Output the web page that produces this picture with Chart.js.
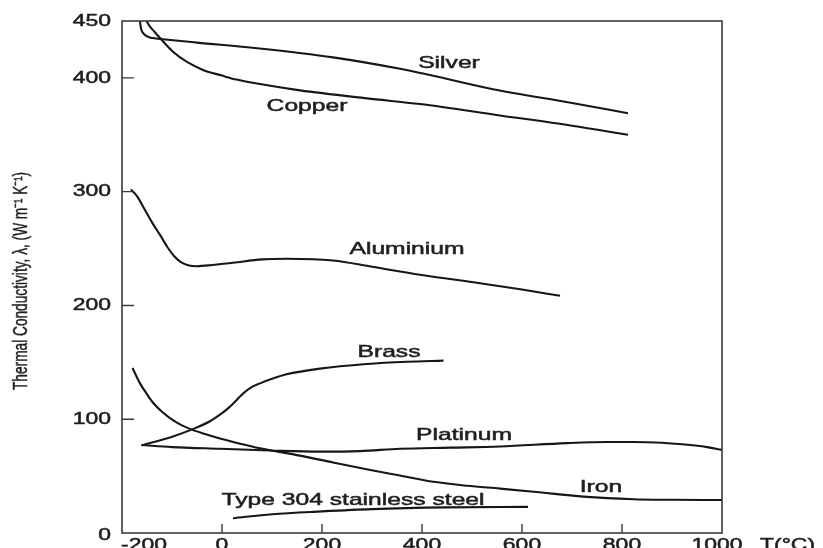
<!DOCTYPE html>
<html>
<head>
<meta charset="utf-8">
<script src="https://cdn.jsdelivr.net/npm/chart.js@4/dist/chart.umd.min.js"></script>
<style>
  html, body { margin: 0; padding: 0; background: #fff; }
  canvas { display: block; }
</style>
</head>
<body>
<canvas id="lineChart" width="823" height="548"></canvas>
<script>
// temperature (°C) and conductivity (W m-1 K-1)
const silverT = [-164, -163, -161, -158, -153, -146, -138, -118, -50, 70, 222, 356, 400, 542, 700, 812];
const silverK = [450, 446, 442, 439.5, 437.3, 435.8, 435, 434, 431, 426, 418, 408, 404, 390, 378, 369];

const copperT = [-151, -144, -138, -124, -98, -70, -38, 0, 29, 70, 156, 290, 396, 556, 700, 812];
const copperK = [450, 445, 442, 435, 423, 414, 407, 402, 398.5, 395, 389, 382, 377, 367, 358, 350];

const aluminiumT = [-182, -170, -158, -140, -124, -108, -95, -82, -68, -50, -20, 22, 80, 130, 222, 300, 396, 516, 600, 676];
const aluminiumK = [302, 296, 287, 273, 262, 250.5, 243, 238, 235.3, 234.5, 235.5, 237.5, 240.5, 241, 239.5, 234, 227, 219.5, 214, 208.5];

const brassT = [-161, -104, -57, -25, -4, 12, 23, 35, 46, 60, 76, 100, 129, 196, 289, 370, 443];
const brassK = [77, 84, 91.5, 98, 104, 109.5, 114, 119.5, 124, 128.5, 131.5, 135.5, 139.5, 144.5, 148.5, 150.5, 151.5];

const platinumT = [-161, -100, -4, 96, 196, 276, 356, 456, 556, 689, 770, 823, 880, 936, 970, 1000];
const platinumK = [77.3, 75.5, 74, 72.5, 71.5, 72, 74, 75, 76, 79, 80, 80, 79.3, 77.3, 75.5, 73];

const ironT = [-179, -164, -150, -137, -120, -104, -84, -64, -34, -4, 36, 76, 156, 222, 289, 356, 423, 490, 556, 623, 723, 823, 900, 1000];
const ironK = [145, 131.5, 122, 114, 106.5, 101, 95.5, 91.5, 87, 83, 78.5, 74.5, 68, 62, 56, 50.5, 45, 41.5, 39, 36.3, 32, 29.7, 29.2, 29];

const steelT = [22, 100, 200, 300, 450, 612];
const steelK = [13, 16.5, 19, 21, 22.5, 23];

// curve labels and where they sit (data coordinates)
const curveNames = ['Silver', 'Copper', 'Aluminium', 'Brass', 'Platinum', 'Iron', 'Type 304 stainless steel'];
const curveLabelT = [454, 170, 370, 334, 484, 758, 262];
const curveLabelK = [413, 375, 249, 159, 86, 40, 29];

// axis ticks
const xTickValues = [-200, 0, 200, 400, 600, 800, 1000];
const xTickMarks = [0, 200, 400, 600, 800];
const yTickValues = [0, 100, 200, 300, 400, 450];
const yTickMarks = [100, 200, 300, 400];
const xUnitLabel = 'T(°C)';
const yTitle = 'Thermal Conductivity, λ, (W m⁻¹ K⁻¹)';

const toPoints = (ts, ks) => ts.map((t, i) => ({ x: t, y: ks[i] }));

const makeSet = (label, ts, ks) => ({
    label: label,
    data: toPoints(ts, ks),
    borderColor: '#161616',
    borderWidth: 2.1,
    pointRadius: 0,
    fill: false,
    cubicInterpolationMode: 'monotone',
});

// the scanned figure is stretched sideways, so text is widened to match
const stretchText = (ctx, text, x, y, sx) => {
    ctx.save();
    ctx.translate(x, y);
    ctx.scale(sx, 1);
    ctx.strokeText(text, 0, 0);
    ctx.fillText(text, 0, 0);
    ctx.restore();
};

const figurePlugin = {
    id: 'figureText',
    afterDraw(chart) {
        const ctx = chart.ctx;
        const area = chart.chartArea;
        const xs = chart.scales.x;
        const ys = chart.scales.y;

        ctx.save();
        // frame
        ctx.strokeStyle = '#3a3a3a';
        ctx.lineWidth = 1.6;
        ctx.strokeRect(area.left, area.top, area.right - area.left, area.bottom - area.top);

        // inward tick marks
        ctx.lineWidth = 1.4;
        ctx.beginPath();
        xTickMarks.forEach((v) => {
            const px = xs.getPixelForValue(v);
            ctx.moveTo(px, area.bottom);
            ctx.lineTo(px, area.bottom - 9);
        });
        yTickMarks.forEach((v) => {
            const py = ys.getPixelForValue(v);
            ctx.moveTo(area.left, py);
            ctx.lineTo(area.left + 12, py);
        });
        ctx.stroke();

        ctx.fillStyle = '#1e1e1e';
        ctx.strokeStyle = '#1e1e1e';
        ctx.lineWidth = 0.5;
        ctx.font = '17px "Liberation Sans", Arial, sans-serif';

        // y tick labels
        ctx.textBaseline = 'middle';
        yTickValues.forEach((v) => {
            const py = ys.getPixelForValue(v);
            const w = ctx.measureText(String(v)).width * 1.35;
            stretchText(ctx, String(v), area.left - 11 - w, v === 0 ? py + 2 : py, 1.35);
        });

        // x tick labels
        ctx.textBaseline = 'top';
        xTickValues.forEach((v, i) => {
            const px = xs.getPixelForValue(v);
            const w = ctx.measureText(String(v)).width * 1.35;
            const left = i === 0 ? px - 1 : px - w / 2 - (i === xTickValues.length - 1 ? 5 : 0);
            stretchText(ctx, String(v), left, area.bottom + 4, 1.35);
        });
        stretchText(ctx, xUnitLabel, xs.getPixelForValue(1000) + 38, area.bottom + 4, 1.35);

        // curve labels
        ctx.textBaseline = 'middle';
        curveNames.forEach((name, i) => {
            const px = xs.getPixelForValue(curveLabelT[i]);
            const py = ys.getPixelForValue(curveLabelK[i]);
            const w = ctx.measureText(name).width * 1.45;
            stretchText(ctx, name, px - w / 2, py, 1.45);
        });

        // y axis title, fitted to its length in the figure
        ctx.font = '15px "Liberation Sans Narrow", "Liberation Sans", sans-serif';
        ctx.textAlign = 'center';
        ctx.textBaseline = 'middle';
        const titleW = ctx.measureText(yTitle).width;
        ctx.translate(22, 281);
        ctx.rotate(-Math.PI / 2);
        ctx.scale(218 / titleW, 1.3);
        ctx.lineWidth = 0.35;
        ctx.strokeText(yTitle, 0, 0);
        ctx.fillText(yTitle, 0, 0);
        ctx.restore();
    },
};

const ctx = document.getElementById('lineChart').getContext('2d');
new Chart(ctx, {
    type: 'line',
    data: {
        datasets: [
            makeSet('Silver', silverT, silverK),
            makeSet('Copper', copperT, copperK),
            makeSet('Aluminium', aluminiumT, aluminiumK),
            makeSet('Brass', brassT, brassK),
            makeSet('Platinum', platinumT, platinumK),
            makeSet('Iron', ironT, ironK),
            makeSet('Type 304 stainless steel', steelT, steelK),
        ],
    },
    options: {
        responsive: false,
        animation: false,
        layout: {
            padding: { left: 122, top: 21, right: 101, bottom: 15 },
        },
        plugins: {
            legend: { display: false },
            tooltip: { enabled: false },
        },
        scales: {
            x: { type: 'linear', min: -200, max: 1000, display: false },
            y: { type: 'linear', min: 0, max: 450, display: false },
        },
    },
    plugins: [figurePlugin],
});
</script>
</body>
</html>
